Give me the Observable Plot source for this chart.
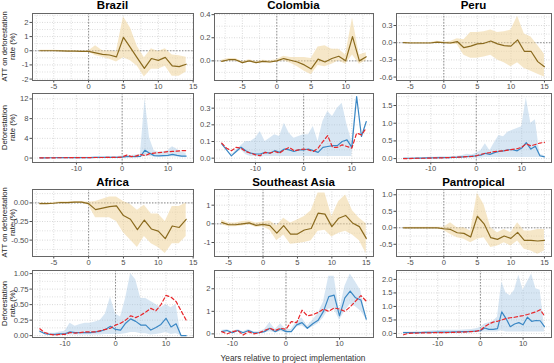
<!DOCTYPE html>
<html><head><meta charset="utf-8">
<script src="https://cdn.jsdelivr.net/npm/d3@7"></script>
<script src="https://cdn.jsdelivr.net/npm/@observablehq/plot@0.6"></script>
<style>
html,body{margin:0;padding:0;background:#fff;}
#chart{position:relative;width:554px;height:363px;overflow:hidden;font-family:"Liberation Sans",Arial,Helvetica,sans-serif;}
</style></head><body><div id="chart"></div>
<script>
// ---------- categories & labels ----------
const regionNames = ["Brazil", "Colombia", "Peru", "Africa", "Southeast Asia", "Pantropical"];
const attAxisLabel = ["ATT on deforestation", "rate (%)"];
const defAxisLabel = ["Deforestation", "rate (%)"];
const xAxisTitle = "Years relative to project implementation";

// first year of each series (years run in steps of 1)
const attStartYear = [-7, -8, -6, -7, -6, -6];
const defStartYear = [-18, -17, -16, -15, -12, -18];

// ---------- ATT on deforestation rate (%) ----------
const brazilAtt     = [0.0, 0.0, 0.0, -0.01, -0.02, -0.03, -0.04, -0.05, -0.15, -0.25, -0.3, -0.43, 0.95, 0.22, -0.52, -1.25, -0.55, -0.68, -0.47, -1.07, -1.12, -0.95];
const brazilAttLow  = [-0.03, -0.03, -0.03, -0.04, -0.05, -0.06, -0.07, -0.08, -0.35, -0.45, -0.6, -0.8, -0.5, -0.7, -1.1, -1.85, -1.3, -1.3, -1.1, -1.8, -1.8, -1.5];
const brazilAttHigh = [0.03, 0.03, 0.03, 0.02, 0.01, 0.0, -0.01, -0.02, 0.35, 0.0, 0.0, -0.05, 2.4, 1.6, 0.3, -0.5, 0.15, -0.05, 0.15, -0.3, -0.35, -0.45];

const colombiaAtt     = [-0.005, 0.01, 0.01, -0.015, 0.0, -0.015, -0.005, -0.01, 0.0, 0.02, 0.005, -0.01, -0.035, -0.07, 0.015, -0.01, 0.02, 0.04, 0.0, 0.21, 0.0, 0.035];
const colombiaAttLow  = [-0.015, 0.0, 0.0, -0.025, -0.01, -0.025, -0.015, -0.02, -0.01, 0.0, -0.02, -0.05, -0.09, -0.12, -0.04, -0.05, -0.03, 0.0, -0.03, 0.05, -0.03, 0.0];
const colombiaAttHigh = [0.005, 0.02, 0.02, -0.005, 0.01, -0.005, 0.005, 0.0, 0.01, 0.04, 0.03, 0.03, 0.03, 0.02, 0.12, 0.13, 0.1, 0.1, 0.05, 0.37, 0.05, 0.07];

const peruAtt     = [0.0, -0.005, -0.005, -0.005, -0.005, 0.01, 0.0, -0.005, 0.02, -0.087, -0.06, -0.02, -0.01, 0.03, -0.02, -0.05, -0.06, 0.05, -0.15, -0.15, -0.33, -0.42];
const peruAttLow  = [-0.01, -0.015, -0.015, -0.015, -0.015, -0.005, -0.01, -0.03, -0.03, -0.22, -0.27, -0.27, -0.25, -0.22, -0.3, -0.35, -0.42, -0.35, -0.45, -0.5, -0.55, -0.6];
const peruAttHigh = [0.01, 0.005, 0.005, 0.005, 0.005, 0.025, 0.01, 0.02, 0.07, 0.05, 0.18, 0.18, 0.19, 0.22, 0.18, 0.19, 0.22, 0.46, 0.15, 0.1, -0.05, -0.2];

const africaAtt     = [-0.01, -0.01, -0.005, 0.005, 0.005, 0.01, 0.01, -0.01, -0.09, -0.07, -0.05, -0.04, -0.17, -0.22, -0.36, -0.23, -0.35, -0.38, -0.48, -0.31, -0.33, -0.22];
const africaAttLow  = [-0.02, -0.02, -0.015, -0.005, -0.005, 0.0, 0.0, -0.03, -0.2, -0.2, -0.2, -0.25, -0.4, -0.5, -0.6, -0.45, -0.55, -0.6, -0.68, -0.55, -0.55, -0.45];
const africaAttHigh = [0.0, 0.0, 0.005, 0.015, 0.015, 0.02, 0.02, 0.01, 0.02, 0.05, 0.08, 0.08, 0.02, -0.02, -0.1, -0.03, -0.15, -0.15, -0.25, -0.05, -0.05, 0.0];

const seAsiaAtt     = [0.08, -0.05, -0.05, 0.0, 0.05, -0.08, -0.03, -0.1, -0.5, -0.1, -0.55, -0.55, -0.33, -0.25, 0.57, 0.52, -0.15, 0.3, 0.45, 0.05, -0.15, -0.78];
const seAsiaAttLow  = [-0.05, -0.15, -0.15, -0.12, -0.05, -0.2, -0.15, -0.35, -0.9, -0.6, -1.1, -1.05, -1.0, -0.9, -0.4, -0.35, -0.7, -0.5, -0.4, -0.6, -0.9, -1.6];
const seAsiaAttHigh = [0.2, 0.05, 0.05, 0.12, 0.15, 0.05, 0.1, 0.15, -0.1, 0.3, 0.05, 0.2, 0.4, 0.7, 1.65, 1.65, 0.4, 1.2, 1.55, 0.7, 0.3, 0.0];

const pantropAtt     = [0.0, 0.0, 0.0, 0.0, 0.0, 0.0, -0.03, -0.05, -0.15, -0.17, -0.28, 0.35, 0.12, -0.3, -0.35, -0.25, -0.32, -0.14, -0.38, -0.38, -0.4, -0.38];
const pantropAttLow  = [-0.02, -0.02, -0.02, -0.02, -0.02, -0.02, -0.08, -0.2, -0.3, -0.35, -0.45, -0.35, -0.3, -0.6, -0.55, -0.45, -0.55, -0.4, -0.65, -0.7, -0.8, -0.7];
const pantropAttHigh = [0.02, 0.02, 0.02, 0.02, 0.02, 0.02, 0.02, 0.15, 0.0, 0.0, -0.1, 1.05, 0.7, 0.0, -0.15, -0.05, -0.15, 0.15, -0.1, -0.1, -0.05, -0.05];

// ---------- Deforestation rate (%) : treated (blue), band, counterfactual (red dashed) ----------
const brazilDef     = [0.05, 0.05, 0.06, 0.06, 0.07, 0.07, 0.08, 0.08, 0.09, 0.1, 0.1, 0.1, 0.12, 0.12, 0.13, 0.14, 0.15, 0.15, 0.2, 0.3, 0.3, 0.3, 0.35, 1.6, 1.0, 0.5, 0.45, 0.5, 0.55, 0.75, 0.55, 0.4, 0.4];
const brazilDefLow  = [0.02, 0.02, 0.03, 0.03, 0.04, 0.04, 0.05, 0.05, 0.06, 0.06, 0.06, 0.06, 0.07, 0.07, 0.08, 0.08, 0.09, 0.09, 0.1, 0.15, 0.15, 0.15, 0.15, 0.3, 0.3, 0.2, 0.2, 0.2, 0.2, 0.25, 0.2, 0.15, 0.15];
const brazilDefHigh = [0.1, 0.1, 0.1, 0.1, 0.12, 0.12, 0.13, 0.13, 0.14, 0.16, 0.16, 0.17, 0.2, 0.2, 0.22, 0.25, 0.28, 0.3, 0.4, 0.5, 0.5, 0.6, 0.7, 12.0, 4.0, 1.5, 1.2, 1.3, 1.5, 2.3, 1.8, 1.2, 1.0];
const brazilCf      = [0.04, 0.04, 0.05, 0.05, 0.06, 0.06, 0.07, 0.07, 0.08, 0.09, 0.09, 0.1, 0.11, 0.11, 0.12, 0.13, 0.14, 0.15, 0.2, 0.6, 0.3, 0.4, 0.75, 0.5, 0.9, 1.0, 1.1, 1.2, 1.3, 1.35, 1.4, 1.5, 1.5];

const colombiaDef     = [0.086, 0.05, 0.014, 0.04, 0.066, 0.045, 0.03, 0.025, 0.025, 0.035, 0.03, 0.045, 0.035, 0.055, 0.05, 0.04, 0.05, 0.05, 0.055, 0.045, 0.035, 0.065, 0.07, 0.075, 0.075, 0.1, 0.11, 0.065, 0.37, 0.13, 0.22];
const colombiaDefLow  = [0.086, 0.05, 0.014, 0.03, 0.05, 0.02, 0.01, 0.01, 0.005, 0.01, 0.01, 0.01, 0.01, 0.01, 0.01, 0.01, 0.01, 0.01, 0.01, 0.01, 0.01, 0.01, 0.01, 0.01, 0.01, 0.01, 0.01, 0.01, 0.37, 0.13, 0.22];
const colombiaDefHigh = [0.086, 0.05, 0.014, 0.05, 0.075, 0.1, 0.1, 0.12, 0.16, 0.1, 0.12, 0.14, 0.13, 0.21, 0.15, 0.12, 0.13, 0.14, 0.14, 0.19, 0.1, 0.22, 0.28, 0.25, 0.3, 0.33, 0.2, 0.1, 0.37, 0.13, 0.22];
const colombiaCf      = [0.09, 0.06, 0.045, 0.065, 0.06, 0.04, 0.03, 0.02, 0.015, 0.035, 0.03, 0.04, 0.03, 0.05, 0.065, 0.045, 0.05, 0.055, 0.05, 0.04, 0.06, 0.1, 0.135, 0.065, 0.065, 0.08, 0.07, 0.06, 0.15, 0.14, 0.18];

const peruDef     = [0.01, 0.01, 0.01, 0.015, 0.015, 0.02, 0.02, 0.02, 0.025, 0.03, 0.03, 0.035, 0.04, 0.05, 0.06, 0.07, 0.08, 0.1, 0.15, 0.12, 0.17, 0.2, 0.22, 0.25, 0.25, 0.22, 0.3, 0.45, 0.27, 0.35, 0.08, 0.05];
const peruDefLow  = [0.005, 0.005, 0.005, 0.01, 0.01, 0.01, 0.01, 0.01, 0.01, 0.01, 0.01, 0.01, 0.01, 0.01, 0.01, 0.01, 0.02, 0.02, 0.03, 0.03, 0.03, 0.03, 0.03, 0.03, 0.03, 0.03, 0.03, 0.03, 0.03, 0.03, 0.03, 0.03];
const peruDefHigh = [0.02, 0.02, 0.02, 0.03, 0.03, 0.03, 0.04, 0.04, 0.05, 0.05, 0.05, 0.06, 0.07, 0.09, 0.12, 0.1, 0.15, 0.22, 0.42, 0.22, 0.45, 0.65, 0.62, 0.75, 0.8, 0.85, 0.9, 1.72, 1.0, 1.1, 0.12, 0.08];
const peruCf      = [0.0, 0.0, 0.005, 0.01, 0.01, 0.01, 0.015, 0.02, 0.02, 0.025, 0.03, 0.035, 0.04, 0.045, 0.055, 0.06, 0.08, 0.12, 0.15, 0.17, 0.2, 0.21, 0.22, 0.24, 0.26, 0.28, 0.32, 0.42, 0.36, 0.4, 0.44, 0.46];

const africaDef     = [0.07, 0.03, 0.02, 0.02, 0.03, 0.03, 0.06, 0.05, 0.05, 0.05, 0.05, 0.06, 0.07, 0.1, 0.15, 0.1, 0.09, 0.2, 0.27, 0.23, 0.17, 0.17, 0.09, 0.13, 0.18, 0.28, 0.14, 0.19, 0.0, 0.0];
const africaDefLow  = [0.07, 0.02, 0.01, 0.01, 0.01, 0.01, 0.01, 0.01, 0.01, 0.01, 0.01, 0.01, 0.01, 0.02, 0.02, 0.02, 0.02, 0.03, 0.05, 0.05, 0.03, 0.03, 0.01, 0.02, 0.03, 0.05, 0.02, 0.03, 0.0, 0.0];
const africaDefHigh = [0.07, 0.05, 0.04, 0.04, 0.06, 0.07, 0.2, 0.15, 0.18, 0.2, 0.2, 0.22, 0.25, 0.35, 0.62, 0.35, 0.3, 0.6, 1.0, 0.9, 0.6, 0.6, 0.55, 0.5, 0.45, 0.5, 0.45, 0.5, 0.0, 0.0];
const africaCf      = [0.11, 0.05, 0.02, 0.01, 0.02, 0.02, 0.05, 0.04, 0.05, 0.06, 0.06, 0.06, 0.08, 0.1, 0.12, 0.17, 0.2, 0.25, 0.32, 0.29, 0.33, 0.38, 0.44, 0.4, 0.5, 0.65, 0.62, 0.55, 0.4, 0.25];

const seAsiaDef     = [0.1, 0.15, 0.05, 0.15, 0.05, 0.15, 0.05, 0.05, 0.1, 0.25, 0.1, 0.22, 0.1, 0.1, 0.4, 0.5, 0.25, 0.45, 0.6, 1.0, 1.65, 1.72, 0.8, 1.6, 1.9, 1.6, 1.5, 0.65];
const seAsiaDefLow  = [0.05, 0.1, 0.0, 0.1, 0.0, 0.1, 0.0, 0.0, 0.05, 0.1, 0.05, 0.1, 0.05, 0.05, 0.3, 0.35, 0.2, 0.3, 0.45, 0.7, 1.1, 1.1, 0.6, 1.0, 1.3, 1.2, 1.0, 0.65];
const seAsiaDefHigh = [0.15, 0.2, 0.1, 0.2, 0.1, 0.2, 0.1, 0.1, 0.2, 0.5, 0.2, 0.45, 0.2, 0.2, 0.55, 0.7, 0.35, 0.6, 0.9, 1.4, 2.55, 2.55, 1.0, 2.1, 2.65, 2.3, 1.9, 0.65];
const seAsiaCf      = [0.1, 0.0, 0.1, 0.15, -0.05, 0.1, 0.0, 0.05, 0.15, 0.25, 0.15, 0.25, 0.2, 0.55, 0.5, 1.05, 0.8, 0.85, 0.95, 1.1, 1.0, 1.15, 1.1, 1.0, 1.2, 1.45, 1.7, 1.45];

const pantropDef     = [0.03, 0.03, 0.03, 0.03, 0.03, 0.04, 0.04, 0.04, 0.05, 0.05, 0.05, 0.05, 0.06, 0.06, 0.07, 0.07, 0.08, 0.09, 0.1, 0.2, 0.15, 0.15, 0.18, 0.8, 0.55, 0.25, 0.35, 0.4, 0.32, 0.6, 0.45, 0.48, 0.47, 0.25];
const pantropDefLow  = [0.02, 0.02, 0.02, 0.02, 0.02, 0.02, 0.02, 0.02, 0.02, 0.02, 0.02, 0.02, 0.02, 0.02, 0.02, 0.02, 0.03, 0.03, 0.04, 0.05, 0.05, 0.05, 0.05, 0.1, 0.05, 0.05, 0.05, 0.05, 0.05, 0.05, 0.05, 0.05, 0.05, 0.05];
const pantropDefHigh = [0.05, 0.05, 0.05, 0.06, 0.06, 0.07, 0.08, 0.1, 0.1, 0.12, 0.12, 0.12, 0.12, 0.12, 0.13, 0.14, 0.15, 0.17, 0.22, 0.35, 0.4, 0.45, 0.6, 1.9, 1.5, 1.4, 1.6, 2.15, 1.6, 1.9, 2.2, 1.65, 1.6, 0.25];
const pantropCf      = [-0.05, 0.0, 0.01, 0.01, 0.02, 0.02, 0.02, 0.03, 0.03, 0.03, 0.03, 0.04, 0.04, 0.05, 0.05, 0.06, 0.07, 0.08, 0.12, 0.25, 0.35, 0.42, 0.45, 0.5, 0.55, 0.58, 0.6, 0.63, 0.66, 0.7, 0.75, 0.8, 0.88, 0.65];

// ---------- axis ticks & ranges ----------
const attXTicks = [[-5, 0, 5, 10, 15], [-5, 0, 5, 10], [-5, 0, 5, 10, 15], [-5, 0, 5, 10, 15], [-5, 0, 5, 10, 15], [-5, 0, 5, 10, 15]];
const defXTicks = [-10, 0, 10];
const attYTicks = [[-2, -1, 0, 1, 2], [0, 0.2, 0.4], [-0.6, -0.3, 0, 0.3], [-0.5, -0.25, 0], [-1, 0, 1], [-0.5, 0, 0.5, 1]];
const defYTicks = [[0, 4, 8, 12], [0, 0.1, 0.2, 0.3], [0, 0.5, 1, 1.5], [0, 0.25, 0.5, 0.75, 1], [0, 1, 2], [0, 0.5, 1, 1.5, 2]];
const attYDigits = [0, 1, 1, 2, 0, 1];
const defYDigits = [0, 1, 1, 2, 0, 1];
const attYDomain = [[-2.1, 2.63], [-0.17, 0.41], [-0.66, 0.51], [-0.72, 0.18], [-1.75, 1.84], [-0.87, 1.16]];
const defYDomain = [[-0.9, 13.1], [-0.026, 0.388], [-0.11, 1.84], [-0.03, 1.05], [-0.16, 2.81], [-0.15, 2.33]];

// ---------- assemble ----------
const attSeries = [
  [brazilAtt, brazilAttLow, brazilAttHigh],
  [colombiaAtt, colombiaAttLow, colombiaAttHigh],
  [peruAtt, peruAttLow, peruAttHigh],
  [africaAtt, africaAttLow, africaAttHigh],
  [seAsiaAtt, seAsiaAttLow, seAsiaAttHigh],
  [pantropAtt, pantropAttLow, pantropAttHigh]
];
const defSeries = [
  [brazilDef, brazilDefLow, brazilDefHigh, brazilCf],
  [colombiaDef, colombiaDefLow, colombiaDefHigh, colombiaCf],
  [peruDef, peruDefLow, peruDefHigh, peruCf],
  [africaDef, africaDefLow, africaDefHigh, africaCf],
  [seAsiaDef, seAsiaDefLow, seAsiaDefHigh, seAsiaCf],
  [pantropDef, pantropDefLow, pantropDefHigh, pantropCf]
];

const chart = document.getElementById("chart");
const colLeft = [32, 214, 396], colRight = [193, 373, 551];
const rowTop = [13, 93, 189, 270], rowBottom = [80, 162, 256, 337];

function expand(ext) { const d = (ext[1] - ext[0]) * 0.05; return [ext[0] - d, ext[1] + d]; }
function minorOf(ticks, domain) {
  const step = ticks[1] - ticks[0], out = [];
  for (let v = ticks[0] - step / 2; v <= domain[1]; v += step) if (v >= domain[0]) out.push(+v.toFixed(6));
  return out;
}

function makePanel({left, right, top, bottom, xDomain, yDomain, xTicks, yTicks, yDigits, zeroH, marks}) {
  const ml = 34, mr = 10, mt = 4, mb = 14;
  const w = right - left, h = bottom - top;
  const xMinor = minorOf(xTicks, xDomain), yMinor = minorOf(yTicks, yDomain);
  const grid = {stroke: "#d2d2d2", strokeWidth: 0.7, strokeDasharray: "1,1.5"};
  const svg = Plot.plot({
    width: w + ml + mr, height: h + mt + mb,
    marginLeft: ml, marginRight: mr, marginTop: mt, marginBottom: mb,
    x: {domain: xDomain, ticks: xTicks, tickSize: 2.5, tickPadding: 1, tickFormat: d => String(d), label: null},
    y: {domain: yDomain, ticks: yTicks, tickSize: 2.5, tickPadding: 1.5, tickFormat: d => d.toFixed(yDigits), label: null},
    style: {background: "transparent", overflow: "visible", fontFamily: "'Liberation Sans', Arial, sans-serif", fontSize: "7.6px", color: "#4d4d4d"},
    marks: [
      Plot.ruleX(xMinor, grid),
      Plot.ruleY(yMinor, grid),
      Plot.ruleX(xTicks, {...grid, stroke: "#c8c8c8"}),
      Plot.ruleY(yTicks, {...grid, stroke: "#c8c8c8"}),
      Plot.ruleX([0], {stroke: "#777", strokeWidth: 0.8, strokeDasharray: "1.5,1.5"}),
      zeroH ? Plot.ruleY([0], {stroke: "#777", strokeWidth: 0.8, strokeDasharray: "1.5,1.5"}) : null,
      ...marks,
      Plot.frame({stroke: "#666", strokeWidth: 1})
    ]
  });
  svg.style.position = "absolute";
  svg.style.left = (left - ml) + "px";
  svg.style.top = (top - mt) + "px";
  chart.appendChild(svg);
}

regionNames.forEach((name, r) => {
  const col = r % 3, block = Math.floor(r / 3);
  // ATT panel
  const [att, lo, hi] = attSeries[r];
  const attRows = att.map((v, i) => ({year: attStartYear[r] + i, v, lo: lo[i], hi: hi[i]}));
  makePanel({
    left: colLeft[col], right: colRight[col], top: rowTop[block * 2], bottom: rowBottom[block * 2],
    xDomain: expand(d3.extent(attRows, d => d.year)), yDomain: attYDomain[r],
    xTicks: attXTicks[r], yTicks: attYTicks[r], yDigits: attYDigits[r], zeroH: true,
    marks: [
      Plot.areaY(attRows, {x: "year", y1: "lo", y2: "hi", fill: "#efd49a", fillOpacity: 0.55, clip: true}),
      Plot.line(attRows, {x: "year", y: "v", stroke: "#8a6a1e", strokeWidth: 1.2, clip: true})
    ]
  });
  // Deforestation panel
  const [dv, dlo, dhi, cf] = defSeries[r];
  const defRows = dv.map((v, i) => ({year: defStartYear[r] + i, v, lo: dlo[i], hi: dhi[i], cf: cf[i]}));
  makePanel({
    left: colLeft[col], right: colRight[col], top: rowTop[block * 2 + 1], bottom: rowBottom[block * 2 + 1],
    xDomain: expand(d3.extent(defRows, d => d.year)), yDomain: defYDomain[r],
    xTicks: defXTicks, yTicks: defYTicks[r], yDigits: defYDigits[r], zeroH: false,
    marks: [
      Plot.areaY(defRows, {x: "year", y1: "lo", y2: "hi", fill: "#9cc0e0", fillOpacity: 0.4, clip: true}),
      Plot.line(defRows, {x: "year", y: "v", stroke: "#3a87c4", strokeWidth: 1.2, clip: true}),
      Plot.line(defRows, {x: "year", y: "cf", stroke: "#e8262a", strokeWidth: 1.2, strokeDasharray: "3.5,2.5", clip: true})
    ]
  });
});

// ---------- text overlay ----------
const ov = d3.select(chart).append("svg")
  .attr("width", 554).attr("height", 363)
  .style("position", "absolute").style("left", "0px").style("top", "0px").style("pointer-events", "none")
  .style("font-family", "'Liberation Sans', Arial, sans-serif");

regionNames.forEach((name, r) => {
  const col = r % 3, block = Math.floor(r / 3);
  ov.append("text")
    .attr("x", (colLeft[col] + colRight[col]) / 2)
    .attr("y", rowTop[block * 2] - (block === 0 ? 4.5 : 3.5))
    .attr("text-anchor", "middle").attr("font-weight", "bold").attr("font-size", 11.5).attr("fill", "#000")
    .text(name);
});

rowTop.forEach((t, k) => {
  const cy = (t + rowBottom[k]) / 2;
  const lines = k % 2 === 0 ? attAxisLabel : defAxisLabel;
  const txt = ov.append("text")
    .attr("transform", `translate(6.7,${cy}) rotate(-90)`)
    .attr("text-anchor", "middle").attr("font-size", 7.6).attr("fill", "#1a1a1a");
  lines.forEach((ln, j) => txt.append("tspan").attr("x", 0).attr("dy", j === 0 ? 0 : 8.4).text(ln));
});

ov.append("text")
  .attr("x", 293).attr("y", 360.5)
  .attr("text-anchor", "middle").attr("font-size", 8.3).attr("fill", "#333")
  .text(xAxisTitle);
</script></body></html>
